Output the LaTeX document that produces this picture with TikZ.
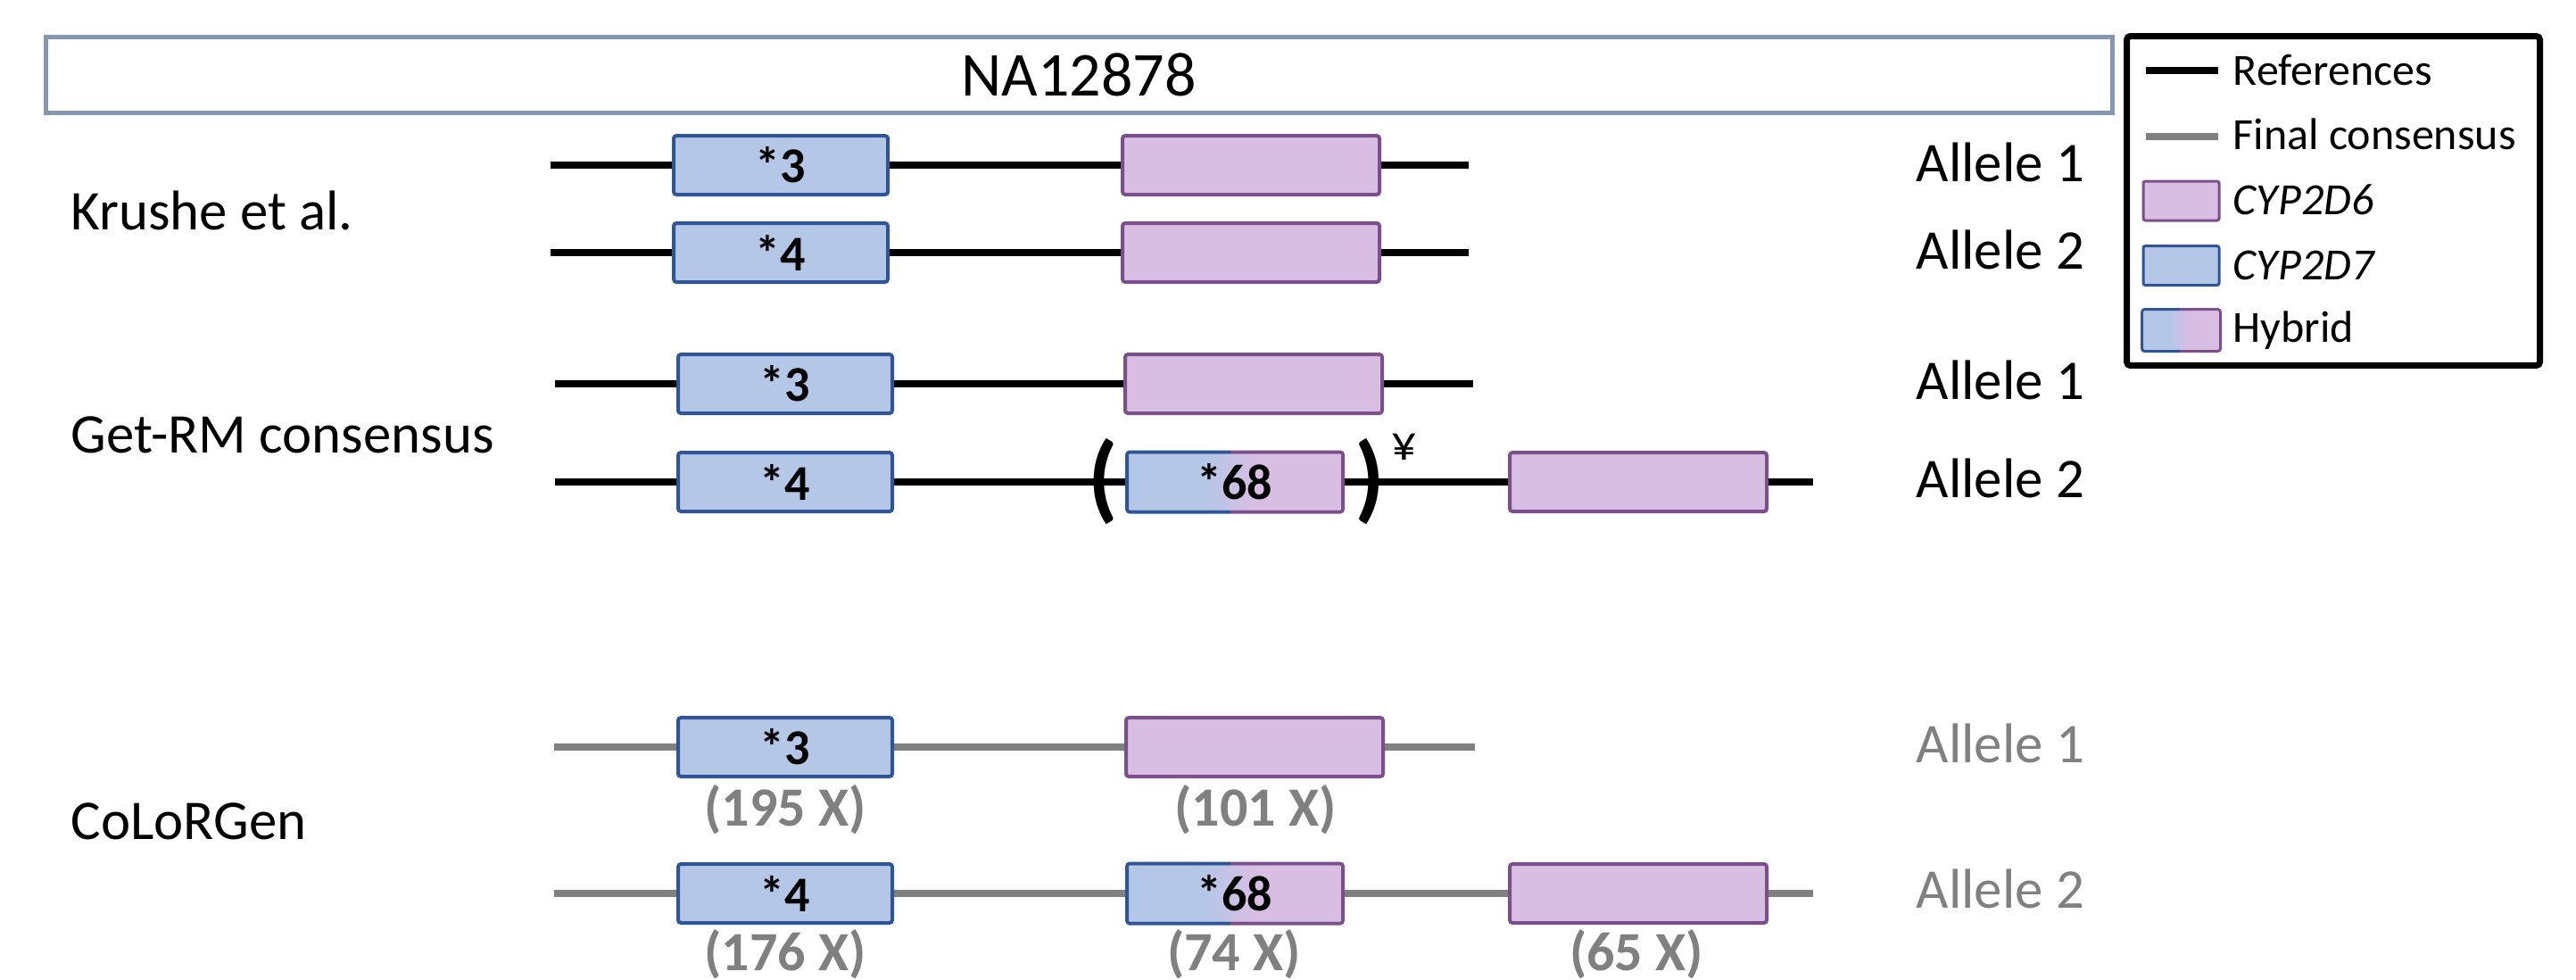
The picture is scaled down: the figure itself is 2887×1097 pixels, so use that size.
\documentclass[tikz,border=0pt]{standalone}
\usepackage{fontspec}
\setmainfont{Carlito}
\usetikzlibrary{calc,backgrounds}
\definecolor{bfill}{HTML}{B4C7E7}
\definecolor{bdraw}{HTML}{2F5597}
\definecolor{pfill}{HTML}{D9BEE4}
\definecolor{pdraw}{HTML}{7A4F8C}
\definecolor{cgrey}{HTML}{808080}
\definecolor{tbox}{HTML}{8497B0}
\pgfdeclarehorizontalshading{hybshade}{100bp}{color(0bp)=(bfill); color(25bp)=(bfill); color(43bp)=(bfill); color(55bp)=(pfill); color(75bp)=(pfill); color(100bp)=(pfill)}
\tikzset{
  gbox/.style={rectangle, rounded corners=0.8pt, line width=1pt, minimum height=16.5pt, inner sep=0pt, font=\bfseries\fontsize{14}{14}\selectfont},
  dseven/.style={gbox, draw=bdraw, fill=bfill, minimum width=60pt},
  dsix/.style={gbox, draw=pdraw, fill=pfill, minimum width=72pt},
  hyb/.style={gbox, shading=hybshade, minimum width=59.5pt, minimum height=15.75pt},
  refline/.style={line width=2pt, black},
  conline/.style={line width=2pt, cgrey},
  seclab/.style={anchor=base west, inner sep=0pt, font=\fontsize{15.7}{16}\selectfont},
  allab/.style={anchor=base west, inner sep=0pt, font=\fontsize{15.7}{16}\selectfont},
  cnt/.style={anchor=base, inner sep=0pt, text=cgrey, font=\bfseries\fontsize{15.5}{16}\selectfont},
  paren/.style={inner sep=0pt, font=\bfseries\fontsize{27}{28}\selectfont},
  legtxt/.style={anchor=base west, inner sep=0pt, font=\fontsize{12.5}{13}\selectfont},
  legrect/.style={rectangle, rounded corners=0.6pt, line width=0.75pt, minimum width=21.25pt, minimum height=11pt, inner sep=0pt},
}
\newcommand\hybborder[2]{%
  \begin{scope}
    \clip ([shift={(-12,-12)}]#1.north west) rectangle ($(#1.south west)!0.48!(#1.south east)+(0,12)$);
    \draw[bdraw, line width=#2, rounded corners=0.8pt] (#1.north west) rectangle (#1.south east);
  \end{scope}
  \begin{scope}
    \clip ([shift={(12,-12)}]#1.north east) rectangle ($(#1.south west)!0.48!(#1.south east)+(0,12)$);
    \draw[pdraw, line width=#2, rounded corners=0.8pt] (#1.north west) rectangle (#1.south east);
  \end{scope}}
\begin{document}
\begin{tikzpicture}[x=0.25pt, y=-0.25pt]
\useasboundingbox (0,0) rectangle (2887,1097);

% title
\node[draw=tbox, line width=1.25pt, minimum width=579pt, minimum height=21.25pt, inner sep=0pt, font=\fontsize{17.5}{18}\selectfont] (title) at (1209,84) {NA12878};

% section labels
\node[seclab] (lkr) at (79,257) {Krushe et al.};
\node[seclab] (lgr) at (79,507) {Get-RM consensus};
\node[seclab] (lco) at (79,940) {CoLoRGen};

% Krushe
\coordinate (k1s) at (617,185);
\node[dseven] (k1a) at (875,185) {*3};
\node[dsix] (k1b) at (1402,185) {};
\coordinate (k1e) at (1646,185);
\coordinate (k2s) at (617,283);
\node[dseven] (k2a) at (875,283) {*4};
\node[dsix] (k2b) at (1402,283) {};
\coordinate (k2e) at (1646,283);

% Get-RM
\coordinate (g1s) at (622,430);
\node[dseven] (g1a) at (880,430) {*3};
\node[dsix] (g1b) at (1405,430) {};
\coordinate (g1e) at (1651,430);
\coordinate (g2s) at (622,540);
\node[dseven] (g2a) at (880,540) {*4};
\node[hyb] (g2b) at (1384,540) {*68};
\hybborder{g2b}{1pt}
\node[dsix] (g2c) at (1836,540) {};
\coordinate (g2e) at (2032,540);

% CoLoRGen
\coordinate (c1s) at (621,837);
\node[dseven] (c1a) at (880,837) {*3};
\node[dsix] (c1b) at (1406,837) {};
\coordinate (c1e) at (1653,837);
\coordinate (c2s) at (621,1001);
\node[dseven] (c2a) at (880,1001) {*4};
\node[hyb] (c2b) at (1384,1001) {*68};
\hybborder{c2b}{1pt}
\node[dsix] (c2c) at (1836,1001) {};
\coordinate (c2e) at (2032,1001);

\begin{scope}[on background layer]
  \fill[white] (0,0) rectangle (2887,1097);
  \draw[refline] (k1s) -- (k1a.west) (k1a.east) -- (k1b.west) (k1b.east) -- (k1e);
  \draw[refline] (k2s) -- (k2a.west) (k2a.east) -- (k2b.west) (k2b.east) -- (k2e);
  \draw[refline] (g1s) -- (g1a.west) (g1a.east) -- (g1b.west) (g1b.east) -- (g1e);
  \draw[refline] (g2s) -- (g2a.west) (g2a.east) -- (g2b.west) (g2b.east) -- (g2c.west) (g2c.east) -- (g2e);
  \draw[conline] (c1s) -- (c1a.west) (c1a.east) -- (c1b.west) (c1b.east) -- (c1e);
  \draw[conline] (c2s) -- (c2a.west) (c2a.east) -- (c2b.west) (c2b.east) -- (c2c.west) (c2c.east) -- (c2e);
\end{scope}

% parentheses and yen
\node[paren] (po) at (1236,540) {(};
\node[paren] (pc) at (1535,540) {)};
\node[anchor=base, inner sep=0pt, font=\fontsize{14}{14}\selectfont] (yen) at (1574,515) {¥};

% coverage counts
\node[cnt] (n1) at (880,925) {(195 X)};
\node[cnt] (n2) at (1407,925) {(101 X)};
\node[cnt] (n3) at (880,1087) {(176 X)};
\node[cnt] (n4) at (1383,1087) {(74 X)};
\node[cnt] (n5) at (1834,1087) {(65 X)};

% allele labels
\node[allab] (a1) at (2147,203) {Allele 1};
\node[allab] (a2) at (2147,301) {Allele 2};
\node[allab] (a3) at (2147,447) {Allele 1};
\node[allab] (a4) at (2147,557) {Allele 2};
\node[allab, text=cgrey] (a5) at (2147,854) {Allele 1};
\node[allab, text=cgrey] (a6) at (2147,1017) {Allele 2};

% legend
\node[draw=black, line width=1.75pt, rounded corners=1pt, minimum width=115.75pt, minimum height=92.25pt, inner sep=0pt] (leg) at (2615,225) {};
\coordinate (lr1) at (2405,79);
\coordinate (lr2) at (2486,79);
\draw[line width=2.2pt, black] (lr1) -- (lr2);
\coordinate (lg1) at (2405,153);
\coordinate (lg2) at (2486,153);
\draw[line width=2pt, cgrey] (lg1) -- (lg2);
\node[legrect, draw=pdraw, fill=pfill] (lp) at (2444.5,225) {};
\node[legrect, draw=bdraw, fill=bfill] (lb) at (2444.5,297.5) {};
\node[legrect, shading=hybshade] (lh) at (2444.5,370) {};
\hybborder{lh}{0.75pt}
\node[legtxt] (t1) at (2502,95) {References};
\node[legtxt] (t2) at (2502,167) {Final consensus};
\node[legtxt] (t3) at (2502,240) {\itshape CYP2D6};
\node[legtxt] (t4) at (2502,313) {\itshape CYP2D7};
\node[legtxt] (t5) at (2502,383) {Hybrid};
\end{tikzpicture}
\end{document}
